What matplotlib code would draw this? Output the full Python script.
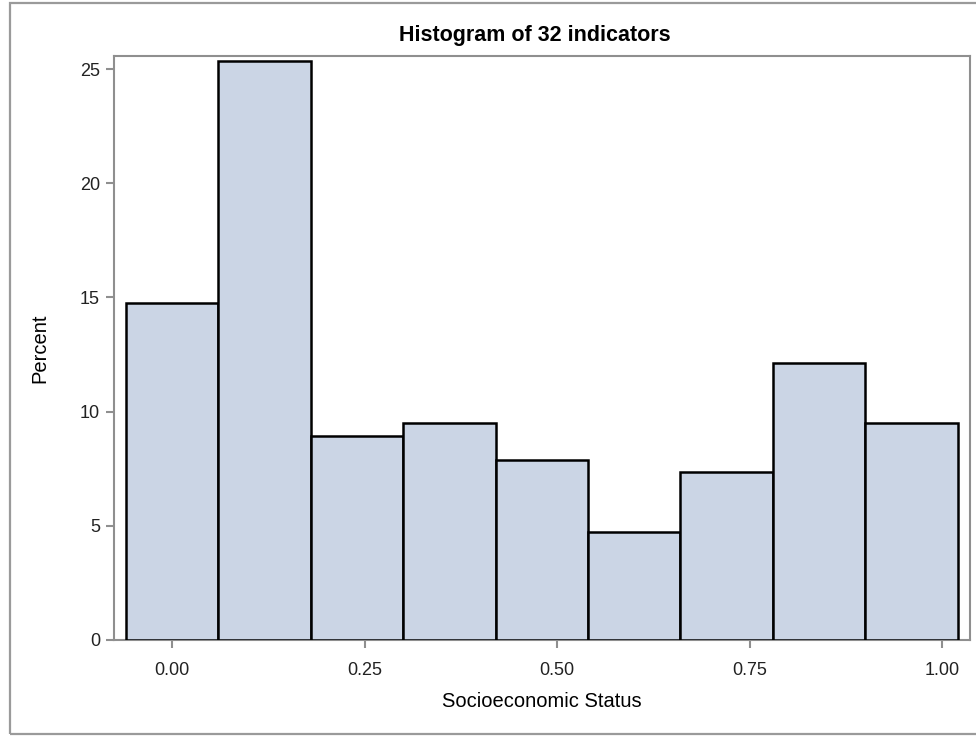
import numpy as np
import matplotlib.pyplot as plt
from matplotlib.patches import Rectangle

plt.rcParams['font.family'] = ['Liberation Sans', 'DejaVu Sans']

# bin centres and percent per bin
bin_centers = [0.00, 0.12, 0.24, 0.36, 0.48, 0.60, 0.72, 0.84, 0.96]
percent = [14.74, 25.36, 8.95, 9.49, 7.88, 4.72, 7.36, 12.11, 9.49]
bin_width = 0.12
x_ticks = [0.00, 0.25, 0.50, 0.75, 1.00]
x_tick_labels = ['0.00', '0.25', '0.50', '0.75', '1.00']
y_ticks = [0, 5, 10, 15, 20, 25]

W, H = 976, 736
fig = plt.figure(figsize=(W / 100, H / 100), dpi=100)
ax = fig.add_axes([114 / W, 1 - 640 / H, (970 - 114) / W, (640 - 56) / H])

ax.bar(bin_centers, percent, width=bin_width, align='center',
       color='#cbd5e5', edgecolor='black', linewidth=1.8, zorder=3)

ax.set_xlim(-0.0753, 1.036)
ax.set_ylim(0, 25.57)
ax.set_xticks(x_ticks)
ax.set_xticklabels(x_tick_labels)
ax.set_yticks(y_ticks)

frame_col = '#8f8f8f'
for s in ax.spines.values():
    s.set_color(frame_col)
    s.set_linewidth(1.5)
ax.tick_params(axis='both', colors=frame_col, length=6, width=1.5,
               labelcolor='#222222', labelsize=13)
ax.tick_params(axis='y', pad=4)
ax.tick_params(axis='x', pad=10)

ax.set_xlabel('Socioeconomic Status', fontsize=14.5, color='black', labelpad=9)
ax.set_ylabel('Percent', fontsize=14.5, color='black', labelpad=22)

fig.text(535 / W, 1 - 35 / H, 'Histogram of 32 indicators', ha='center',
         va='center', fontsize=15.5, fontweight='bold')

# outer grey border
fig.patches.append(Rectangle((10 / W, 2 / H), 1.0, 1 - 5 / H, transform=fig.transFigure,
                             fill=False, edgecolor='#9a9a9a', linewidth=1.6))

fig.savefig('out.png', dpi=100)
